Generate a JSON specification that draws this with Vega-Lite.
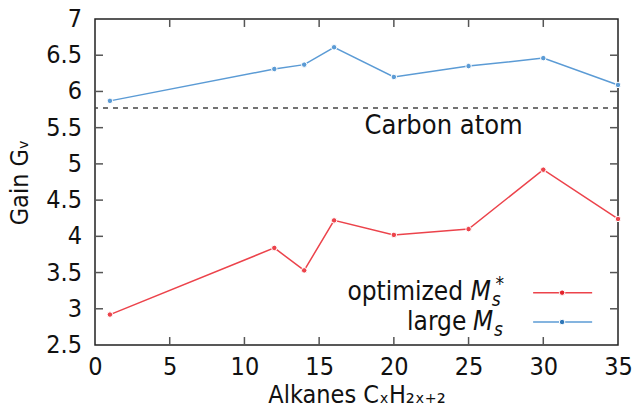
{
  "$schema": "https://vega.github.io/schema/vega-lite/v6.json",
  "width": 523,
  "height": 326,
  "autosize": {"type": "none"},
  "padding": {"left": 95, "top": 19, "right": 16, "bottom": 68},
  "background": "white",
  "config": {
    "font": "DejaVu Sans Condensed",
    "view": {"stroke": "#222", "strokeWidth": 1.5},
    "axis": {
      "domain": false,
      "grid": false,
      "ticks": false,
      "labelFont": "DejaVu Sans Condensed",
      "labelFontSize": 25,
      "labelColor": "#111",
      "labelOverlap": false,
      "labelFlush": false,
      "labelBound": false,
      "titleFont": "DejaVu Sans Condensed",
      "titleFontSize": 25,
      "titleFontWeight": "normal",
      "titleColor": "#111"
    }
  },
  "datasets": {
    "gain": [
      {"n": 1, "gain": 2.92, "series": "optimized"},
      {"n": 12, "gain": 3.84, "series": "optimized"},
      {"n": 14, "gain": 3.53, "series": "optimized"},
      {"n": 16, "gain": 4.22, "series": "optimized"},
      {"n": 20, "gain": 4.02, "series": "optimized"},
      {"n": 25, "gain": 4.10, "series": "optimized"},
      {"n": 30, "gain": 4.92, "series": "optimized"},
      {"n": 35, "gain": 4.24, "series": "optimized"},
      {"n": 1, "gain": 5.87, "series": "large"},
      {"n": 12, "gain": 6.31, "series": "large"},
      {"n": 14, "gain": 6.37, "series": "large"},
      {"n": 16, "gain": 6.61, "series": "large"},
      {"n": 20, "gain": 6.20, "series": "large"},
      {"n": 25, "gain": 6.35, "series": "large"},
      {"n": 30, "gain": 6.46, "series": "large"},
      {"n": 35, "gain": 6.09, "series": "large"}
    ],
    "xticks": [{"t": 5}, {"t": 10}, {"t": 15}, {"t": 20}, {"t": 25}, {"t": 30}],
    "yticks": [{"t": 3}, {"t": 3.5}, {"t": 4}, {"t": 4.5}, {"t": 5}, {"t": 5.5}, {"t": 6}, {"t": 6.5}],
    "ylabels": [
      {"v": 2.5, "label": "2.5"}, {"v": 3, "label": "3"}, {"v": 3.5, "label": "3.5"},
      {"v": 4, "label": "4"}, {"v": 4.5, "label": "4.5"}, {"v": 5, "label": "5"},
      {"v": 5.5, "label": "5.5"}, {"v": 6, "label": "6"}, {"v": 6.5, "label": "6.5"},
      {"v": 7, "label": "7"}
    ],
    "one": [{}]
  },
  "layer": [
    {
      "data": {"name": "gain"},
      "mark": {"type": "line", "strokeWidth": 1.5, "clip": false},
      "encoding": {
        "x": {"field": "n", "type": "quantitative",
              "scale": {"domain": [0, 35], "nice": false, "zero": false},
              "axis": {"orient": "bottom", "values": [0, 5, 10, 15, 20, 25, 30, 35], "labelExpr": "'' + datum.value", "title": "Alkanes CₓH₂ₓ₊₂", "labelPadding": 9, "titlePadding": 3, "labelOverlap": false}},
        "y": {"field": "gain", "type": "quantitative",
              "scale": {"domain": [2.5, 7], "nice": false, "zero": false},
              "axis": {"orient": "left", "values": [2.5, 3, 3.5, 4, 4.5, 5, 5.5, 6, 6.5, 7], "labels": false, "title": "Gain Gᵥ", "titlePadding": 63}},
        "color": {"field": "series", "type": "nominal",
                  "scale": {"domain": ["optimized", "large"], "range": ["#ec434b", "#5b9bd5"]},
                  "legend": null}
      }
    },
    {
      "data": {"name": "ylabels"},
      "mark": {"type": "text", "fontSize": 25, "color": "#111", "align": "right", "baseline": "middle", "dx": -13, "clip": false},
      "encoding": {
        "x": {"datum": 0, "type": "quantitative"},
        "y": {"field": "v", "type": "quantitative"},
        "text": {"field": "label", "type": "nominal"}
      }
    },
    {
      "data": {"name": "xticks"},
      "mark": {"type": "rule", "strokeWidth": 1.5, "color": "#555"},
      "encoding": {"x": {"field": "t", "type": "quantitative"}, "y": {"datum": 7, "type": "quantitative"}, "y2": {"datum": 6.89}}
    },
    {
      "data": {"name": "xticks"},
      "mark": {"type": "rule", "strokeWidth": 1.5, "color": "#555"},
      "encoding": {"x": {"field": "t", "type": "quantitative"}, "y": {"datum": 2.5, "type": "quantitative"}, "y2": {"datum": 2.61}}
    },
    {
      "data": {"name": "yticks"},
      "mark": {"type": "rule", "strokeWidth": 1.5, "color": "#555"},
      "encoding": {"y": {"field": "t", "type": "quantitative"}, "x": {"datum": 0, "type": "quantitative"}, "x2": {"datum": 0.535}}
    },
    {
      "data": {"name": "yticks"},
      "mark": {"type": "rule", "strokeWidth": 1.5, "color": "#555"},
      "encoding": {"y": {"field": "t", "type": "quantitative"}, "x": {"datum": 35, "type": "quantitative"}, "x2": {"datum": 34.465}}
    },
    {
      "data": {"name": "one"},
      "mark": {"type": "rule", "strokeDash": [5, 5], "color": "#444", "strokeWidth": 1.5},
      "encoding": {"y": {"datum": 5.77, "type": "quantitative"}}
    },
    {
      "data": {"name": "gain"},
      "mark": {"type": "point", "filled": true, "size": 30, "stroke": "white", "strokeWidth": 1, "opacity": 1, "clip": false},
      "encoding": {
        "x": {"field": "n", "type": "quantitative"},
        "y": {"field": "gain", "type": "quantitative"},
        "color": {"field": "series", "type": "nominal",
                  "scale": {"domain": ["optimized", "large"], "range": ["#e3232c", "#2f77b8"]},
                  "legend": null}
      }
    },
    {
      "data": {"name": "one"},
      "mark": {"type": "text", "text": "Carbon atom", "fontSize": 27, "color": "#111", "align": "center", "baseline": "middle"},
      "encoding": {"x": {"datum": 23.33, "type": "quantitative"}, "y": {"datum": 5.52, "type": "quantitative"}}
    },
    {
      "data": {"name": "one"},
      "mark": {"type": "rule", "color": "#ec434b", "strokeWidth": 1.5},
      "encoding": {"x": {"datum": 29.32, "type": "quantitative"}, "x2": {"datum": 33.27}, "y": {"datum": 3.222, "type": "quantitative"}}
    },
    {
      "data": {"name": "one"},
      "mark": {"type": "rule", "color": "#5b9bd5", "strokeWidth": 1.5},
      "encoding": {"x": {"datum": 29.32, "type": "quantitative"}, "x2": {"datum": 33.27}, "y": {"datum": 2.817, "type": "quantitative"}}
    },
    {
      "data": {"name": "one"},
      "mark": {"type": "point", "filled": true, "size": 30, "stroke": "white", "strokeWidth": 1, "color": "#e3232c", "opacity": 1},
      "encoding": {"x": {"datum": 31.26, "type": "quantitative"}, "y": {"datum": 3.222, "type": "quantitative"}}
    },
    {
      "data": {"name": "one"},
      "mark": {"type": "point", "filled": true, "size": 30, "stroke": "white", "strokeWidth": 1, "color": "#2f77b8", "opacity": 1},
      "encoding": {"x": {"datum": 31.26, "type": "quantitative"}, "y": {"datum": 2.817, "type": "quantitative"}}
    },
    {
      "data": {"name": "one"},
      "mark": {"type": "text", "text": "optimized", "fontSize": 26, "color": "#111", "align": "right", "baseline": "alphabetic"},
      "encoding": {"x": {"datum": 24.63, "type": "quantitative"}, "y": {"datum": 3.121, "type": "quantitative"}}
    },
    {
      "data": {"name": "one"},
      "mark": {"type": "text", "text": "M", "fontSize": 26, "fontStyle": "italic", "color": "#111", "align": "left", "baseline": "alphabetic"},
      "encoding": {"x": {"datum": 25.15, "type": "quantitative"}, "y": {"datum": 3.121, "type": "quantitative"}}
    },
    {
      "data": {"name": "one"},
      "mark": {"type": "text", "text": "s", "fontSize": 19, "fontStyle": "italic", "color": "#111", "align": "left", "baseline": "alphabetic", "dy": 6},
      "encoding": {"x": {"datum": 26.55, "type": "quantitative"}, "y": {"datum": 3.121, "type": "quantitative"}}
    },
    {
      "data": {"name": "one"},
      "mark": {"type": "text", "text": "*", "fontSize": 19, "color": "#111", "align": "left", "baseline": "alphabetic", "dy": -10},
      "encoding": {"x": {"datum": 26.8, "type": "quantitative"}, "y": {"datum": 3.121, "type": "quantitative"}}
    },
    {
      "data": {"name": "one"},
      "mark": {"type": "text", "text": "large", "fontSize": 26, "color": "#111", "align": "right", "baseline": "alphabetic"},
      "encoding": {"x": {"datum": 24.85, "type": "quantitative"}, "y": {"datum": 2.707, "type": "quantitative"}}
    },
    {
      "data": {"name": "one"},
      "mark": {"type": "text", "text": "M", "fontSize": 26, "fontStyle": "italic", "color": "#111", "align": "left", "baseline": "alphabetic"},
      "encoding": {"x": {"datum": 25.3, "type": "quantitative"}, "y": {"datum": 2.707, "type": "quantitative"}}
    },
    {
      "data": {"name": "one"},
      "mark": {"type": "text", "text": "s", "fontSize": 19, "fontStyle": "italic", "color": "#111", "align": "left", "baseline": "alphabetic", "dy": 6},
      "encoding": {"x": {"datum": 26.7, "type": "quantitative"}, "y": {"datum": 2.707, "type": "quantitative"}}
    }
  ]
}
